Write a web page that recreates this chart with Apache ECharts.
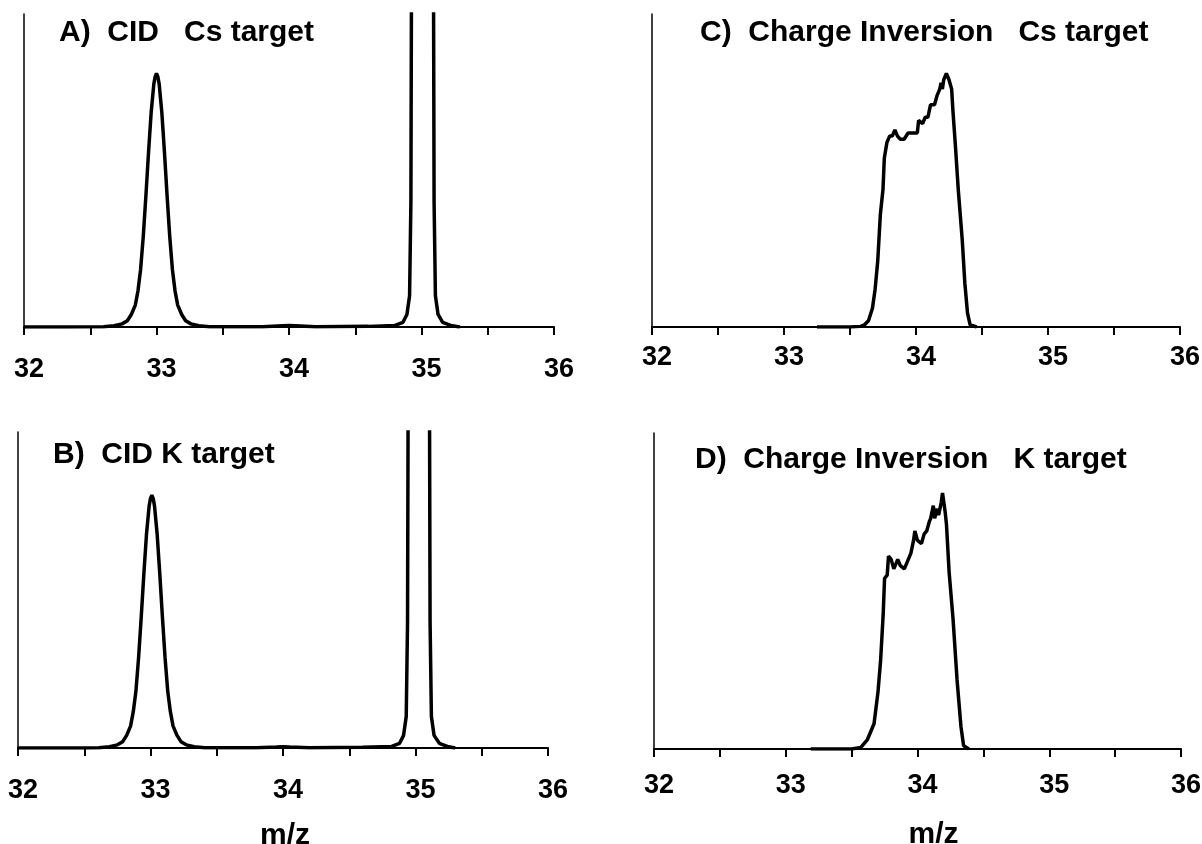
<!DOCTYPE html>
<html>
<head>
<meta charset="utf-8">
<script src="https://cdn.jsdelivr.net/npm/echarts@6/dist/echarts.min.js"></script>
<style>
  html, body { margin: 0; padding: 0; background: #fff; }
  #main { width: 1202px; height: 844px; }
</style>
</head>
<body>
<div id="main"></div>
<script>
// tick labels on the m/z axes
const tickLabels = [32, 33, 34, 35, 36]

// A) CID, Cs target
const mzA = [32.00, 32.30, 32.60, 32.68, 32.74, 32.78, 32.81, 32.84, 32.86, 32.88, 32.90, 32.92, 32.94, 32.96, 32.98, 32.99, 33.00, 33.01, 33.02, 33.04, 33.06, 33.08, 33.10, 33.12, 33.14, 33.16, 33.19, 33.22, 33.26, 33.32, 33.40, 33.80, 33.95, 34.00, 34.05, 34.20, 34.60, 34.80, 34.86, 34.89, 34.91, 34.92, 34.925, 35.00, 35.09, 35.095, 35.105, 35.125, 35.16, 35.22, 35.29]
const intA = [0, 0, 0.001, 0.004, 0.01, 0.02, 0.04, 0.07, 0.115, 0.184, 0.289, 0.419, 0.559, 0.687, 0.777, 0.80, 0.81, 0.80, 0.777, 0.687, 0.559, 0.419, 0.289, 0.184, 0.115, 0.07, 0.04, 0.02, 0.01, 0.004, 0.001, 0.001, 0.004, 0.005, 0.004, 0.001, 0.002, 0.005, 0.015, 0.04, 0.1, 0.4, 1.2, 6, 1.2, 0.4, 0.1, 0.04, 0.015, 0.005, 0]

// B) CID, K target
const mzB = [32.00, 32.20, 32.50, 32.61, 32.69, 32.75, 32.79, 32.82, 32.85, 32.87, 32.89, 32.91, 32.93, 32.95, 32.97, 32.99, 33.00, 33.01, 33.02, 33.03, 33.05, 33.07, 33.09, 33.11, 33.13, 33.15, 33.17, 33.20, 33.23, 33.27, 33.33, 33.41, 33.80, 33.95, 34.00, 34.05, 34.20, 34.60, 34.82, 34.88, 34.91, 34.93, 34.94, 34.945, 35.02, 35.105, 35.11, 35.12, 35.14, 35.18, 35.24, 35.30]
const intB = [0, 0, 0, 0.001, 0.004, 0.01, 0.02, 0.04, 0.07, 0.115, 0.18, 0.285, 0.414, 0.552, 0.678, 0.767, 0.79, 0.80, 0.79, 0.767, 0.678, 0.552, 0.414, 0.285, 0.18, 0.115, 0.07, 0.04, 0.02, 0.01, 0.004, 0.001, 0.001, 0.003, 0.004, 0.003, 0.001, 0.002, 0.005, 0.015, 0.04, 0.1, 0.4, 1.2, 6, 1.2, 0.4, 0.1, 0.04, 0.015, 0.005, 0]

// C) Charge inversion, Cs target
const mzC = [33.25, 33.30, 33.37, 33.50, 33.58, 33.61, 33.64, 33.67, 33.69, 33.71, 33.73, 33.75, 33.76, 33.78, 33.80, 33.82, 33.84, 33.86, 33.88, 33.91, 33.92, 33.94, 33.98, 34.01, 34.02, 34.05, 34.07, 34.09, 34.11, 34.14, 34.16, 34.18, 34.19, 34.20, 34.21, 34.23, 34.25, 34.27, 34.28, 34.30, 34.32, 34.35, 34.37, 34.39, 34.41, 34.46]
const intC = [0, 0, 0, 0, 0.002, 0.007, 0.02, 0.06, 0.12, 0.21, 0.36, 0.44, 0.54, 0.59, 0.61, 0.61, 0.63, 0.61, 0.60, 0.60, 0.60, 0.62, 0.62, 0.62, 0.66, 0.65, 0.67, 0.67, 0.71, 0.71, 0.74, 0.76, 0.78, 0.76, 0.79, 0.81, 0.79, 0.76, 0.69, 0.57, 0.44, 0.28, 0.14, 0.045, 0.007, 0]

// D) Charge inversion, K target
const mzD = [33.19, 33.21, 33.40, 33.50, 33.57, 33.62, 33.67, 33.70, 33.72, 33.74, 33.75, 33.77, 33.78, 33.80, 33.82, 33.84, 33.85, 33.87, 33.90, 33.92, 33.95, 33.97, 33.98, 34.00, 34.03, 34.05, 34.07, 34.09, 34.10, 34.12, 34.13, 34.15, 34.16, 34.18, 34.19, 34.21, 34.22, 34.24, 34.27, 34.30, 34.33, 34.35, 34.39]
const intD = [0, 0, 0, 0, 0.005, 0.03, 0.08, 0.18, 0.28, 0.43, 0.54, 0.55, 0.61, 0.60, 0.57, 0.59, 0.60, 0.58, 0.57, 0.59, 0.62, 0.66, 0.69, 0.66, 0.65, 0.68, 0.69, 0.72, 0.73, 0.77, 0.73, 0.76, 0.74, 0.78, 0.81, 0.75, 0.71, 0.56, 0.41, 0.22, 0.07, 0.01, 0]

const titles = ['A)  CID   Cs target', 'B)  CID K target', 'C)  Charge Inversion   Cs target', 'D)  Charge Inversion   K target']
const xName = 'm/z'

const font = 'Liberation Sans'
const chart = echarts.init(document.getElementById('main'))

// fixed pixel boxes; keep echarts from shrinking them to fit labels
const grids = [
  { left: 24, top: 14, width: 530, height: 313, outerBoundsMode: 'none' },
  { left: 18, top: 432, width: 530, height: 316, outerBoundsMode: 'none' },
  { left: 652, top: 14, width: 528, height: 313, outerBoundsMode: 'none' },
  { left: 654, top: 433, width: 527, height: 316, outerBoundsMode: 'none' }
]
const labelMargins = [29, 29, 17, 23]
const titlePos = [[59, 18], [53, 440], [700, 18], [695, 445]]
const panels = [[mzA, intA], [mzB, intB], [mzC, intC], [mzD, intD]]

function xAxisFor(i) {
  let axis = {
    gridIndex: i,
    type: 'value',
    min: 32,
    max: 36,
    interval: 0.5,
    splitLine: { show: false },
    axisLine: { lineStyle: { color: '#000', width: 2 } },
    axisTick: { length: 8, lineStyle: { color: '#000', width: 2 } },
    axisLabel: {
      margin: labelMargins[i],
      color: '#000',
      fontFamily: font,
      fontWeight: 'bold',
      fontSize: 27,
      padding: [0, 0, 0, 10],
      formatter: function(v) {
        return tickLabels.indexOf(v) >= 0 ? String(v) : ''
      }
    }
  }
  if (i === 1 || i === 3) {
    axis.name = xName
    axis.nameLocation = 'middle'
    axis.nameGap = i === 1 ? 73 : 71
    axis.nameTextStyle = {
      color: '#000',
      fontFamily: font,
      fontWeight: 'bold',
      fontSize: 30,
      padding: i === 3 ? [0, 0, 0, 32] : [0, 0, 0, 4]
    }
  }
  return axis
}

let option = {
  animation: false,
  backgroundColor: '#fff',
  title: titles.map(function(t, i) {
    return {
      text: t,
      left: titlePos[i][0],
      top: titlePos[i][1],
      padding: 0,
      textStyle: { color: '#000', fontFamily: font, fontWeight: 'bold', fontSize: 30 }
    }
  }),
  grid: grids,
  xAxis: grids.map(function(g, i) { return xAxisFor(i) }),
  yAxis: grids.map(function(g, i) {
    return {
      gridIndex: i,
      type: 'value',
      min: 0,
      max: 1,
      splitLine: { show: false },
      axisLine: { show: true, lineStyle: { color: '#000', width: 1.5 } },
      axisTick: { show: false },
      axisLabel: { show: false }
    }
  }),
  series: panels.map(function(p, i) {
    return {
      type: 'line',
      xAxisIndex: i,
      yAxisIndex: i,
      showSymbol: false,
      clip: true,
      lineStyle: { color: '#000', width: 3.5 },
      data: p[0].map(function(x, k) { return [x, p[1][k]] })
    }
  })
}

chart.setOption(option)
</script>
</body>
</html>
